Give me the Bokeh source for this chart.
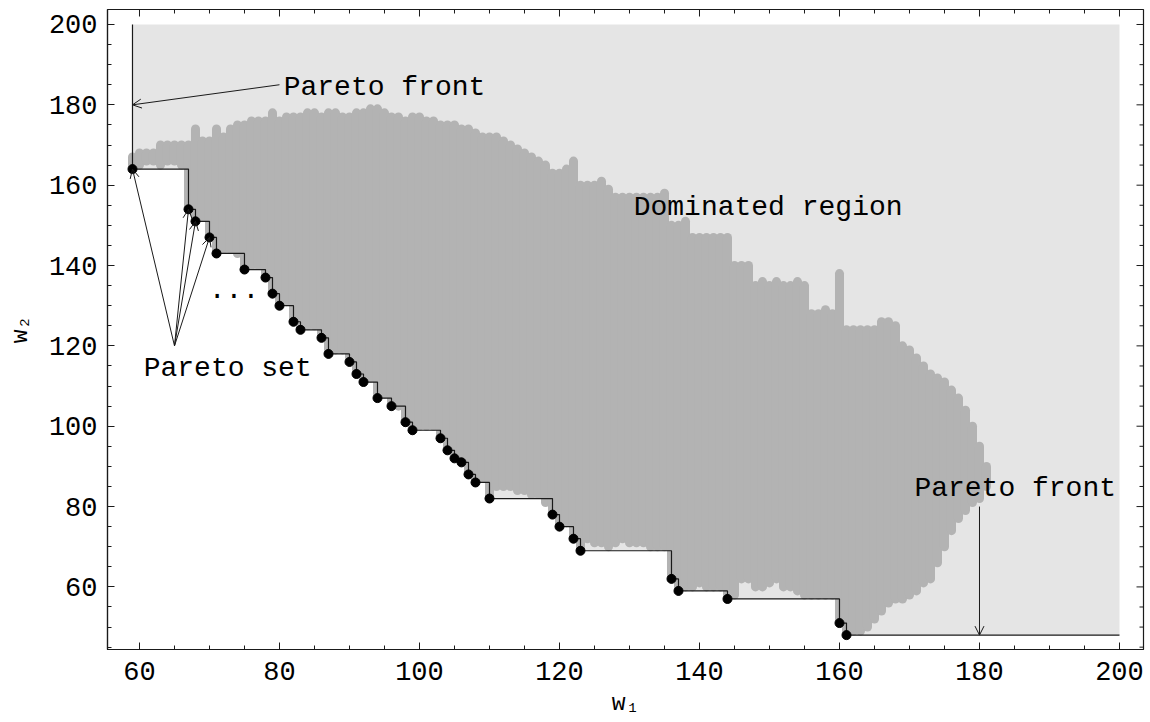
from bokeh.plotting import figure
from bokeh.models import Range1d, FixedTicker, Arrow, OpenHead, Label
from bokeh.embed import file_html
from bokeh.resources import INLINE

# ---------------- data ----------------
# Pareto set (non-dominated points)
pareto_w1 = [59, 67, 68, 70, 71, 75, 78, 79, 80, 82,
             83, 86, 87, 90, 91, 92, 94, 96, 98, 99,
             103, 104, 105, 106, 107, 108, 110, 119, 120, 122,
             123, 136, 137, 144, 160, 161]
pareto_w2 = [164, 154, 151, 147, 143, 139, 137, 133, 130, 126,
             124, 122, 118, 116, 113, 111, 107, 105, 101, 99,
             97, 94, 92, 91, 88, 86, 82, 78, 75, 72,
             69, 62, 59, 57, 51, 48]

# extent of the dominated region
front_w1_max = 200
front_w2_max = 200

# cloud of feasible points: for each integer w1 column, lowest and highest w2
cloud_w1 = list(range(59, 182))
cloud_top = [167, 168, 168, 168, 170, 170, 170, 170, 170, 174,
             171, 171, 174, 172, 174, 175, 175, 176, 176, 176,
             178, 176, 177, 177, 177, 178, 178, 177, 178, 178,
             177, 177, 178, 178, 179, 179, 178, 177, 177, 176,
             177, 177, 176, 176, 175, 175, 175, 174, 174, 173,
             172, 172, 172, 171, 170, 169, 168, 167, 166, 165,
             163, 163, 164, 166, 160, 160, 160, 161, 159, 157,
             157, 157, 157, 157, 157, 157, 158, 150, 150, 151,
             147, 147, 147, 147, 147, 147, 140, 140, 140, 135,
             136, 135, 136, 135, 135, 136, 135, 128, 128, 129,
             128, 138, 124, 124, 124, 124, 124, 126, 126, 125,
             120, 119, 117, 115, 113, 112, 111, 109, 107, 104,
             100, 95, 90]
cloud_bottom = [164, 165, 166, 166, 165, 166, 166, 165, 154, 151,
                152, 147, 143, 144, 144, 143, 139, 140, 140, 137,
                133, 130, 131, 126, 124, 125, 125, 122, 118, 119,
                119, 116, 113, 111, 112, 107, 108, 105, 105, 101,
                99, 100, 100, 100, 97, 94, 92, 91, 88, 86,
                87, 82, 85, 85, 85, 84, 84, 83, 83, 81,
                78, 75, 76, 72, 69, 72, 71, 71, 70, 71,
                72, 71, 71, 71, 70, 70, 70, 62, 59, 60,
                60, 61, 60, 60, 60, 57, 58, 62, 62, 60,
                60, 61, 62, 60, 60, 59, 58, 58, 58, 58,
                58, 51, 48, 49, 49, 50, 52, 54, 56, 57,
                57, 58, 59, 61, 62, 66, 70, 74, 77, 79,
                81, 82, 85]

# axis ticks
x_ticks = [60, 80, 100, 120, 140, 160, 180, 200]
y_ticks = [60, 80, 100, 120, 140, 160, 180, 200]

# ---------------- figure ----------------
FONT = "Liberation Mono"
INK = "#1a1a1a"
X0, X1 = 55.43, 203.43
Y0, Y1 = 44.42, 203.73
FRAME_W, FRAME_H = 1036, 640

p = figure(width=1148, height=721,
           x_range=Range1d(X0, X1), y_range=Range1d(Y0, Y1),
           output_backend="svg", toolbar_location=None,
           min_border_left=107, min_border_right=5, min_border_top=9, min_border_bottom=72,
           x_axis_label="w\u2081", y_axis_label="w\u2082")
p.grid.visible = False
p.outline_line_color = INK
p.outline_line_width = 1.2
p.background_fill_color = "white"

# dominated region (light grey)
p.varea_step(x=pareto_w1 + [front_w1_max], y1=pareto_w2 + [pareto_w2[-1]],
             y2=[front_w2_max] * (len(pareto_w1) + 1), step_mode="after",
             fill_color="#e5e5e5")

# cloud of points (columns of overlapping dots)
p.segment(x0=cloud_w1, y0=cloud_bottom, x1=cloud_w1, y1=cloud_top,
          line_color="#b3b3b3", line_width=9, line_cap="round")

# Pareto front staircase
p.step(x=[pareto_w1[0]] + pareto_w1 + [front_w1_max],
       y=[front_w2_max] + pareto_w2 + [pareto_w2[-1]],
       mode="after", line_color=INK, line_width=1.2)

# Pareto set points
p.scatter(pareto_w1, pareto_w2, size=9, color="black")

# ---------------- axes ----------------
x_minor = [v for v in range(45, 205, 5) if v % 20 != 0 and X0 < v < X1]
y_minor = [v for v in range(45, 205, 5) if v % 20 != 0 and Y0 < v < Y1]


def style_axis(ax, ticks, minors):
    ax.ticker = FixedTicker(ticks=ticks, minor_ticks=minors)
    ax.major_tick_in = 7
    ax.major_tick_out = 0
    ax.minor_tick_in = 4
    ax.minor_tick_out = 0
    ax.axis_line_color = INK
    ax.major_tick_line_color = INK
    ax.minor_tick_line_color = INK
    ax.axis_line_width = 1.2
    ax.major_label_text_font = FONT
    ax.major_label_text_font_size = "27px"
    ax.major_label_text_color = "black"
    ax.axis_label_text_font = FONT
    ax.axis_label_text_font_size = "23px"
    ax.axis_label_text_font_style = "normal"
    ax.axis_label_text_color = "black"


style_axis(p.xaxis[0], x_ticks, x_minor)
style_axis(p.yaxis[0], y_ticks, y_minor)
p.xaxis[0].major_label_standoff = 12
p.xaxis[0].axis_label_standoff = 8
p.yaxis[0].major_label_standoff = 10
p.yaxis[0].axis_label_standoff = 12

# inward ticks on the top and right sides of the frame
ux = (X1 - X0) / FRAME_W   # data units per pixel
uy = (Y1 - Y0) / FRAME_H
top_x = [t for t in x_ticks if X0 < t < X1] + x_minor
top_len = [7 * uy if t in x_ticks else 4 * uy for t in top_x]
p.segment(x0=top_x, y0=[Y1] * len(top_x), x1=top_x, y1=[Y1 - d for d in top_len],
          line_color=INK, line_width=1)
right_y = [t for t in y_ticks if Y0 < t < Y1] + y_minor
right_len = [7 * ux if t in y_ticks else 4 * ux for t in right_y]
p.segment(x0=[X1] * len(right_y), y0=right_y, x1=[X1 - d for d in right_len], y1=right_y,
          line_color=INK, line_width=1)

# ---------------- annotations ----------------
def arrow(x0, y0, x1, y1):
    p.add_layout(Arrow(end=OpenHead(size=9, line_width=1, line_color=INK),
                       x_start=x0, y_start=y0, x_end=x1, y_end=y1,
                       line_width=1, line_color=INK))


def label(x, y, txt):
    p.add_layout(Label(x=x, y=y, text=txt, text_font=FONT, text_font_size="28px",
                       text_color="black", text_align="left", text_baseline="alphabetic"))


# Pareto front (top)
arrow(80, 185, pareto_w1[0], 180)
label(80.6, 184.2, "Pareto front")
# Pareto front (bottom right)
arrow(180, 80, 180, pareto_w2[-1])
label(170.7, 84.6, "Pareto front")
# Dominated region
label(130.6, 154.4, "Dominated region")
# Pareto set
for i in range(4):
    arrow(65, 120, pareto_w1[i], pareto_w2[i])
label(60.6, 114.3, "Pareto set")
label(69.9, 134.1, "...")

open("out.html", "w").write(file_html(p, INLINE))
